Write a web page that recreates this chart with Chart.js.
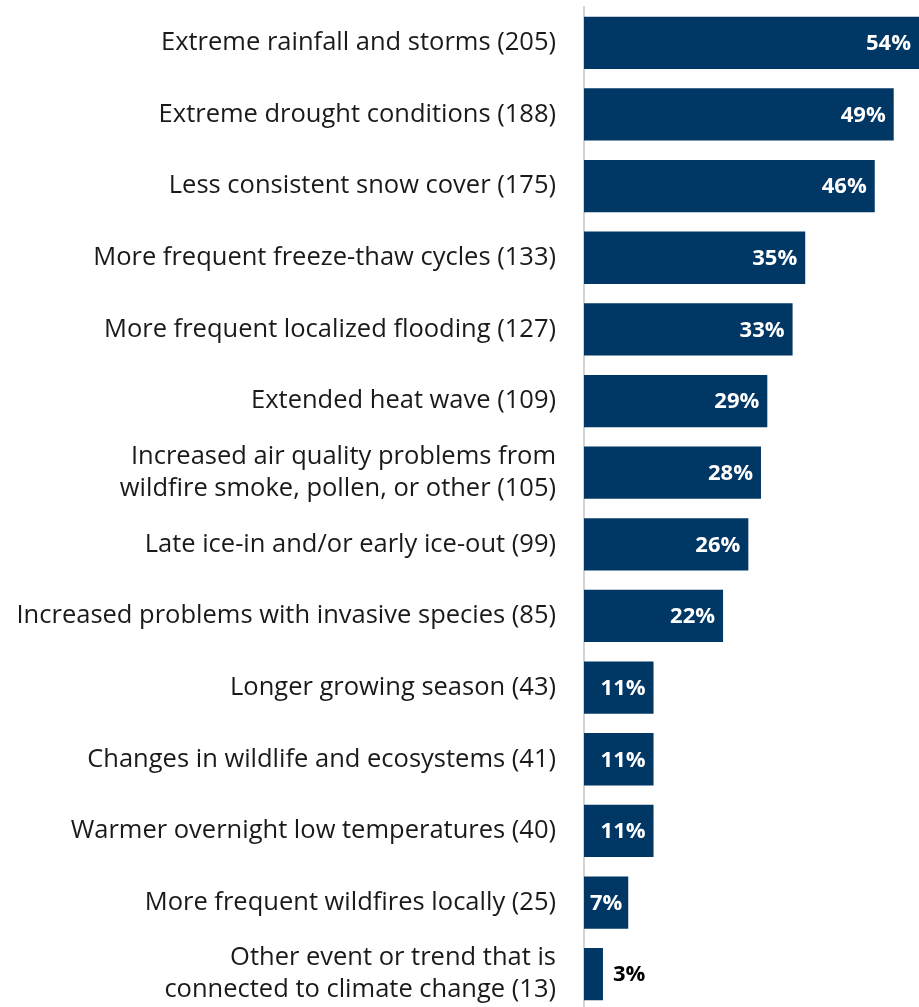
<!DOCTYPE html>
<html>
<head>
<meta charset="utf-8">
<script src="https://cdn.jsdelivr.net/npm/chart.js@4"></script>
<style>
  html, body { margin: 0; padding: 0; background: #ffffff; overflow: hidden; }
  #wrap { position: absolute; left: 0; top: 0; width: 919px; height: 1010px; }
</style>
</head>
<body>
<div id="wrap"><canvas id="chart"></canvas></div>
<script>
// Climate-related events and trends reported (count in parentheses)
const categories = [
  "Extreme rainfall and storms (205)",
  "Extreme drought conditions (188)",
  "Less consistent snow cover (175)",
  "More frequent freeze-thaw cycles (133)",
  "More frequent localized flooding (127)",
  "Extended heat wave (109)",
  ["Increased air quality problems from", "wildfire smoke, pollen, or other (105)"],
  "Late ice-in and/or early ice-out (99)",
  "Increased problems with invasive species (85)",
  "Longer growing season (43)",
  "Changes in wildlife and ecosystems (41)",
  "Warmer overnight low temperatures (40)",
  "More frequent wildfires locally (25)",
  ["Other event or trend that is", "connected to climate change (13)"]
];
const percentages = [54, 49, 46, 35, 33, 29, 28, 26, 22, 11, 11, 11, 7, 3];

const barColor = "#003764";
const fontFamily = "'Open Sans', Lato, sans-serif";

// Percent labels: white inside the bar, black just outside for very short bars
const valueLabels = {
  id: "valueLabels",
  afterDatasetsDraw(chart) {
    const ctx = chart.ctx;
    const meta = chart.getDatasetMeta(0);
    const area = chart.chartArea;
    ctx.save();
    ctx.font = "bold 22px " + fontFamily;
    ctx.textBaseline = "middle";
    meta.data.forEach((bar, i) => {
      const v = percentages[i];
      const text = v + "%";
      const end = Math.min(bar.x, area.right);
      const w = ctx.measureText(text).width;
      if (end - bar.base > w + 4) {
        ctx.fillStyle = "#ffffff";
        ctx.textAlign = "right";
        ctx.fillText(text, end - Math.min(8, (end - bar.base - w) / 2), bar.y + 1);
      } else {
        ctx.fillStyle = "#000000";
        ctx.textAlign = "left";
        ctx.fillText(text, end + 10, bar.y + 1);
      }
    });
    ctx.restore();
  }
};

new Chart(document.getElementById("chart"), {
  type: "bar",
  data: {
    labels: categories,
    datasets: [{
      data: percentages,
      backgroundColor: barColor,
      borderWidth: 0,
      categoryPercentage: 1,
      barPercentage: 0.73
    }]
  },
  options: {
    indexAxis: "y",
    responsive: true,
    maintainAspectRatio: false,
    animation: false,
    layout: { padding: { top: 7, right: 0, bottom: 0, left: 0 } },
    plugins: {
      legend: { display: false },
      tooltip: { enabled: false }
    },
    scales: {
      x: {
        display: false,
        min: 0,
        max: 53
      },
      y: {
        afterFit(scale) {
          scale.width = 584;
          scale.paddingTop = 0;
          scale.paddingBottom = 0;
        },
        grid: { display: false, drawTicks: false },
        border: { display: true, color: "#d4d4d4", width: 2 },
        ticks: {
          color: "#1a1a1a",
          padding: 28,
          font: { family: fontFamily, size: 25.5, lineHeight: 1.255 },
          crossAlign: "near"
        }
      }
    }
  },
  plugins: [valueLabels]
});
</script>
</body>
</html>
